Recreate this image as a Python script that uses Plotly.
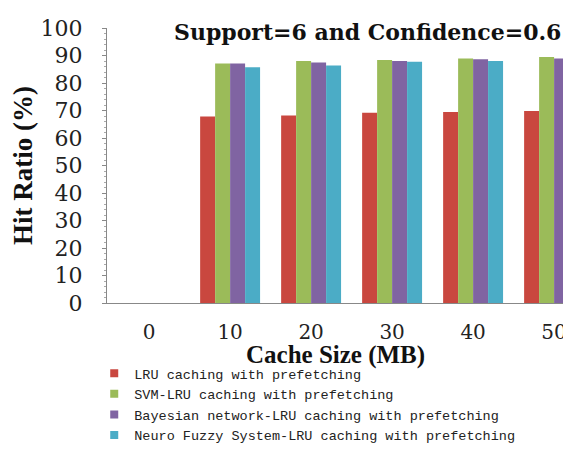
import plotly.graph_objects as go

categories = ["0", "10", "20", "30", "40", "50"]
lru = [0, 67.8, 68.2, 69.2, 69.5, 69.8]
svm_lru = [0, 87.1, 88.0, 88.4, 88.9, 89.5]
bayes_lru = [0, 87.1, 87.5, 88.0, 88.6, 88.9]
neuro_lru = [0, 85.7, 86.4, 87.7, 88.0, 88.3]

series = [
    ("LRU caching with prefetching", lru, "#C9473F"),
    ("SVM-LRU caching with prefetching", svm_lru, "#9BBB59"),
    ("Bayesian network-LRU caching with prefetching", bayes_lru, "#8064A2"),
    ("Neuro Fuzzy System-LRU caching with prefetching", neuro_lru, "#4BACC6"),
]

serif = "Liberation Serif, Times New Roman, serif"
wide = "DejaVu Serif, serif"
mono = "Liberation Mono, Courier New, monospace"
xpos = list(range(len(categories)))

fig = go.Figure()
for name, vals, col in series:
    fig.add_trace(go.Bar(x=xpos, y=vals, name=name, showlegend=False,
                         marker=dict(color=col, line=dict(width=0))))
# legend entries (small square swatches)
for name, vals, col in series:
    fig.add_trace(go.Scatter(x=[None], y=[None], mode="markers", name=name,
                             marker=dict(color=col, symbol="square", size=8)))

fig.update_layout(
    width=555, height=438,
    margin=dict(l=99, r=0, t=20, b=143, autoexpand=False),
    paper_bgcolor="white", plot_bgcolor="white",
    barmode="group", bargap=0.26, bargroupgap=0,
    showlegend=True,
    legend=dict(
        x=-0.028, y=-0.200, xanchor="left", yanchor="top",
        orientation="v", font=dict(family=mono, size=13.5, color="#222"),
        tracegroupgap=0, bgcolor="rgba(0,0,0,0)",
    ),
    font=dict(family=serif, color="#222"),
)

fig.update_xaxes(
    range=[-0.52, 5.11], tickmode="array", tickvals=xpos, ticktext=categories,
    tickfont=dict(family=wide, size=20, color="#222"),
    ticklabelstandoff=11, ticklabeloverflow="allow",
    showline=True, linecolor="#888", linewidth=1, ticks="", showgrid=False,
    zeroline=False,
)
fig.update_yaxes(
    range=[0, 100], dtick=10,
    tickfont=dict(family=wide, size=22, color="#222"),
    ticklabelstandoff=15,
    showline=True, linecolor="#888", linewidth=1, ticks="outside", ticklen=4, tickcolor="#888",
    minor=dict(ticks="outside", ticklen=2, tickcolor="#aaa", dtick=2),
    showgrid=False, zeroline=False,
    title=dict(text="<b>Hit Ratio (%)</b>", font=dict(family=serif, size=27, color="#111"), standoff=1),
)

fig.add_annotation(
    text="<b>Cache Size (MB)</b>", xref="paper", yref="paper",
    x=0.5, y=0, yshift=-52, xanchor="center", yanchor="middle", showarrow=False,
    font=dict(family=serif, size=25, color="#111"),
)
fig.add_annotation(
    text="<b>Support=6 and Confidence=0.6</b>", xref="paper", yref="paper",
    x=1.0, y=1.0, xanchor="right", yanchor="middle", yshift=-4, showarrow=False,
    font=dict(family=wide, size=22, color="#111"),
)

fig.write_html("out.html")
